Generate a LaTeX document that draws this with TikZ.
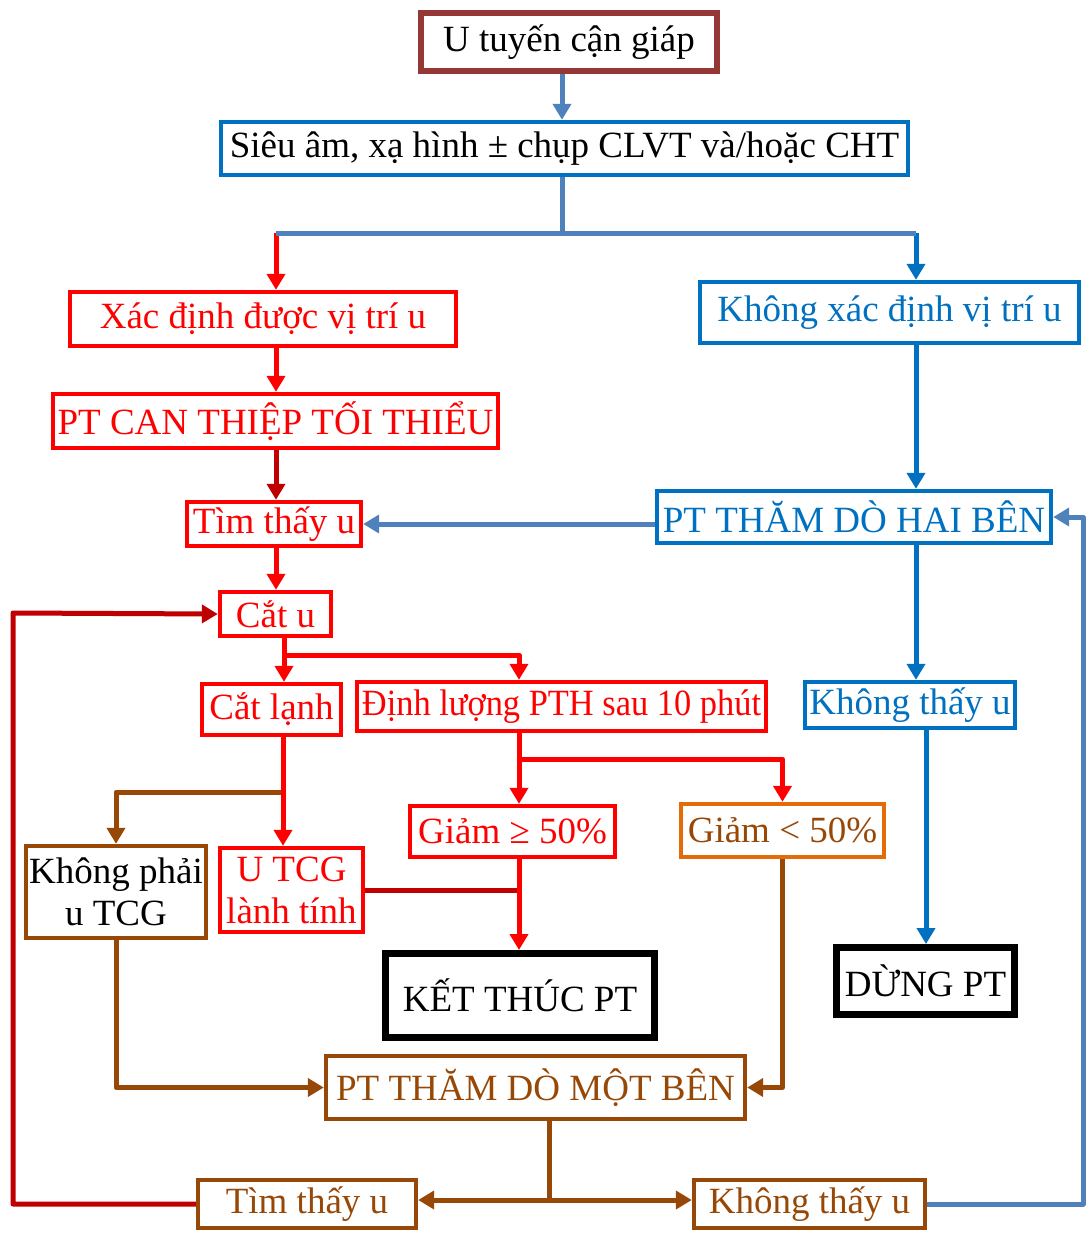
\documentclass[tikz,border=0pt]{standalone}
\usepackage{fontspec}
\setmainfont{Liberation Serif}
\usepackage{graphicx}
\usetikzlibrary{arrows.meta}
\definecolor{tcgred}{RGB}{255,0,0}
\definecolor{tcgdark}{RGB}{192,0,0}
\definecolor{tcgblue}{RGB}{0,112,192}
\definecolor{tcgsteel}{RGB}{79,129,189}
\definecolor{tcgbrown}{RGB}{152,72,6}
\definecolor{tcgorange}{RGB}{227,108,9}
\definecolor{tcgwine}{RGB}{149,55,53}

\tikzset{
  box/.style={draw, line width=2.2pt, inner sep=0pt, align=center,
    font=\fontsize{18.5}{21}\selectfont},
  redbox/.style={box, draw=tcgred, text=tcgred},
  bluebox/.style={box, draw=tcgblue, text=tcgblue},
  brownbox/.style={box, draw=tcgbrown, text=tcgbrown},
  endbox/.style={box, draw=black, line width=3.5pt},
  flow/.style={line width=2.5pt, line join=round, -{Triangle[length=8pt,width=9pt]}},
  link/.style={line width=2.5pt, line join=round},
}

\begin{document}
\begin{tikzpicture}[x=0.5pt,y=-0.5pt]
  \useasboundingbox (0,0) rectangle (1089,1233);

  % boxes
  \node[box, draw=tcgwine, line width=3pt, minimum width=148pt, minimum height=29pt]
    (utcg) at (569,42) {U tuyến cận giáp};
  \node[box, draw=tcgblue, minimum width=343.5pt, minimum height=26.5pt]
    (sieuam) at (564.5,148.5) {Siêu âm, xạ hình ± chụp CLVT và/hoặc CHT};
  \node[redbox, minimum width=193pt, minimum height=27pt]
    (xacdinh) at (263,319) {Xác định được vị trí u};
  \node[bluebox, minimum width=189.5pt, minimum height=30.5pt]
    (khongxd) at (889.5,312.5) {Không xác định vị trí u};
  \node[redbox, minimum width=222.5pt, minimum height=27pt]
    (ptcan) at (275.5,421) {PT CAN THIỆP TỐI THIỂU};
  \node[redbox, minimum width=87pt, minimum height=22pt]
    (timthay) at (274,524) {Tìm thấy u};
  \node[bluebox, minimum width=197pt, minimum height=26pt]
    (haiben) at (854,517) {PT THĂM DÒ HAI BÊN};
  \node[redbox, minimum width=55.5pt, minimum height=22pt]
    (catu) at (275.5,614) {Cắt u};
  \node[redbox, minimum width=69.5pt, minimum height=25.5pt]
    (catlanh) at (271.5,709.5) {Cắt lạnh};
  \node[redbox, minimum width=204.5pt, minimum height=24.5pt]
    (dinhluong) at (561.5,706.5) {\scalebox{0.93}[1]{Định lượng PTH sau 10 phút}};
  \node[bluebox, minimum width=105pt, minimum height=23pt]
    (khongthay) at (910,705) {Không thấy u};
  \node[redbox, minimum width=102.5pt, minimum height=25.5pt]
    (giamhon) at (512.5,831.5) {Giảm ≥ 50\%};
  \node[box, draw=tcgorange, text=tcgbrown, minimum width=101.5pt, minimum height=26.5pt]
    (giamduoi) at (782.5,830.5) {Giảm < 50\%};
  \node[box, draw=tcgbrown, minimum width=90pt, minimum height=46pt]
    (khongphai) at (116,892) {Không phải\\u TCG};
  \node[redbox, minimum width=71.5pt, minimum height=42pt]
    (lanhtinh) at (291.5,890) {U TCG\\lành tính};
  \node[endbox, minimum width=134.5pt, minimum height=42pt]
    (ketthuc) at (520,995.5) {KẾT THÚC PT};
  \node[endbox, minimum width=89pt, minimum height=33.5pt]
    (dung) at (925.5,981) {DỪNG PT};
  \node[brownbox, minimum width=209.5pt, minimum height=31.5pt]
    (motben) at (535.5,1087.5) {PT THĂM DÒ MỘT BÊN};
  \node[brownbox, minimum width=109pt, minimum height=24pt]
    (timthay2) at (307,1204) {Tìm thấy u};
  \node[brownbox, minimum width=115.5pt, minimum height=24pt]
    (khongthay2) at (809.5,1204) {Không thấy u};

  % junctions
  \coordinate (top) at (562,233);
  \coordinate (topl) at (276,233);
  \coordinate (topr) at (916,233);
  \coordinate (colm) at (284,655);
  \coordinate (cold) at (519,759);
  \coordinate (cole) at (283,792);
  \coordinate (colr) at (926,0);
  \coordinate (bot) at (549,1200);
  \coordinate (backl) at (13,613);
  \coordinate (backr) at (1083,517);

  % connectors
  \draw[flow, tcgsteel] (utcg.south -| top) -- (sieuam.north -| top);
  \draw[flow, tcgred] (topl) -- (topl |- xacdinh.north);
  \draw[flow, tcgblue] (topr) -- (topr |- khongxd.north);
  \draw[link, tcgsteel] (sieuam.south -| top) -- (top);
  \draw[link, tcgsteel] (topl) -- (topr);
  \draw[flow, tcgred] (xacdinh.south -| topl) -- (ptcan.north -| topl);
  \draw[flow, tcgdark] (ptcan.south -| topl) -- (timthay.north -| topl);
  \draw[flow, tcgred] (timthay.south -| topl) -- (catu.north -| topl);
  \draw[flow, tcgsteel] (haiben.west |- timthay.east) -- (timthay.east);
  \draw[flow, tcgblue] (khongxd.south -| topr) -- (haiben.north -| topr);
  \draw[flow, tcgblue] (haiben.south -| topr) -- (khongthay.north -| topr);
  \draw[flow, tcgred] (catu.south -| colm) -- (catlanh.north -| colm);
  \draw[flow, tcgred] (colm) -| (dinhluong.north -| cold);
  \draw[flow, tcgred] (dinhluong.south -| cold) -- (giamhon.north -| cold);
  \draw[flow, tcgred] (cold) -| (giamduoi.north);
  \draw[flow, tcgbrown] (cole) -| (khongphai.north);
  \draw[flow, tcgred] (catlanh.south -| cole) -- (lanhtinh.north -| cole);
  \draw[link, tcgdark] (lanhtinh.east) -- (lanhtinh.east -| cold);
  \draw[flow, tcgred] (giamhon.south -| cold) -- (ketthuc.north -| cold);
  \draw[flow, tcgblue] (khongthay.south -| colr) -- (dung.north -| colr);
  \draw[flow, tcgbrown] (khongphai.south) |- (motben.west);
  \draw[flow, tcgbrown] (giamduoi.south) |- (motben.east);
  \draw[link, tcgbrown] (motben.south -| bot) -- (bot);
  \draw[flow, tcgbrown] (bot) -- (bot -| timthay2.east);
  \draw[flow, tcgbrown] (bot) -- (bot -| khongthay2.west);
  \draw[flow, tcgdark] (timthay2.west) -| (backl) -- (catu.west);
  \draw[flow, tcgsteel] (khongthay2.east) -| (backr) -- (haiben.east);
\end{tikzpicture}
\end{document}
